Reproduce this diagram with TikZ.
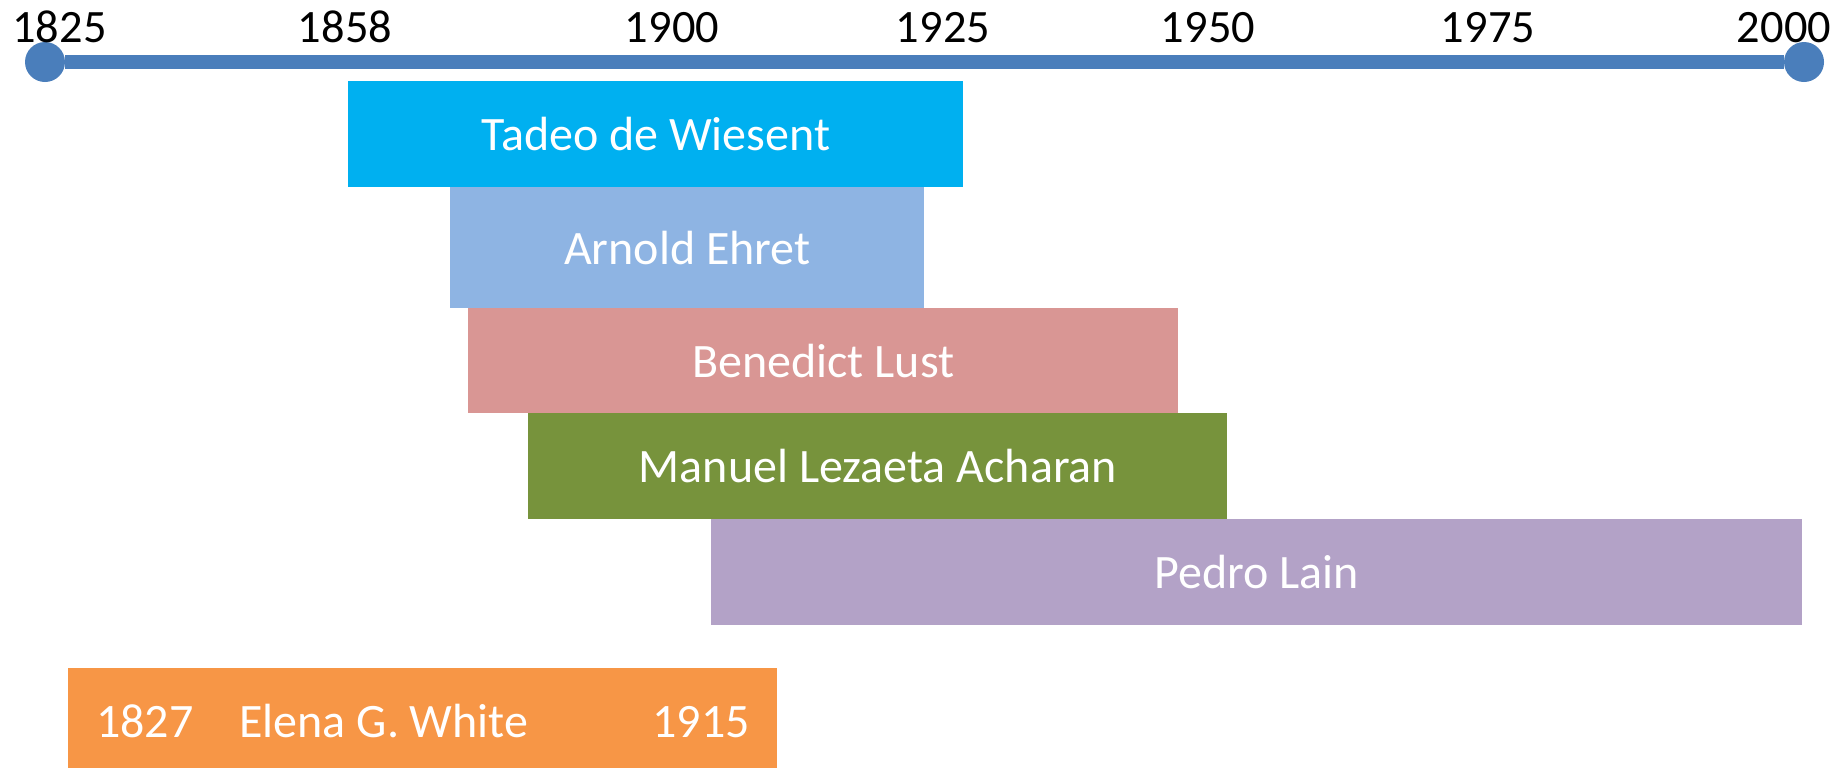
\documentclass[tikz,border=0pt]{standalone}
\usepackage{fontspec}
\setmainfont{Carlito}
\usepackage{tikz}
\definecolor{axisblue}{HTML}{4A7EBB}
\definecolor{tadeo}{HTML}{00B0F0}
\definecolor{arnold}{HTML}{8EB4E3}
\definecolor{benedict}{HTML}{D99694}
\definecolor{manuel}{HTML}{77933C}
\definecolor{pedro}{HTML}{B3A2C7}
\definecolor{elena}{HTML}{F79646}
\def \yeartext{\fontsize{23.2pt}{28pt}\selectfont}
\def \bartext{\fontsize{24pt}{29pt}\selectfont}

\begin{document}
\begin{tikzpicture}[x=0.5pt,y=-0.5pt,
	dot/.style={circle,fill=axisblue,minimum size=20pt,inner sep=0pt},
	axis/.style={draw=axisblue,line width=6.75pt},
	year/.style={anchor=base,inner sep=0pt,font=\yeartext},
	bar/.style={anchor=north west,inner sep=0pt,text=white,font=\bartext,minimum height=53pt}]
\useasboundingbox (0,0) rectangle (1845,767);
% time axis
\node[dot] (start) at (45,62) {};
\node[dot] (end) at (1804,62) {};
\draw[axis] (start) -- (end);
\foreach \x/\yr in {59.5/1825,345/1858,672/1900,943/1925,1208/1950,1488/1975,1784/2000}
	\node[year] (y\yr) at (\x,42) {\yr};
% life spans
\node[bar,fill=tadeo,minimum width=307.5pt] (tadeo) at (348,81) {Tadeo de Wiesent};
\node[bar,fill=arnold,minimum width=237pt,minimum height=60.5pt] (arnold) at (450,187) {Arnold Ehret};
\node[bar,fill=benedict,minimum width=355pt,minimum height=52.5pt] (benedict) at (468,308) {Benedict Lust};
\node[bar,fill=manuel,minimum width=349.5pt] (manuel) at (528,413) {Manuel Lezaeta Acharan};
\node[bar,fill=pedro,minimum width=545.5pt] (pedro) at (711,519) {Pedro Lain};
\node[bar,fill=elena,minimum width=354.5pt] (elena) at (68,668)
	{1827\hspace{23pt}Elena G. White\hspace{62pt}1915};
\end{tikzpicture}
\end{document}
